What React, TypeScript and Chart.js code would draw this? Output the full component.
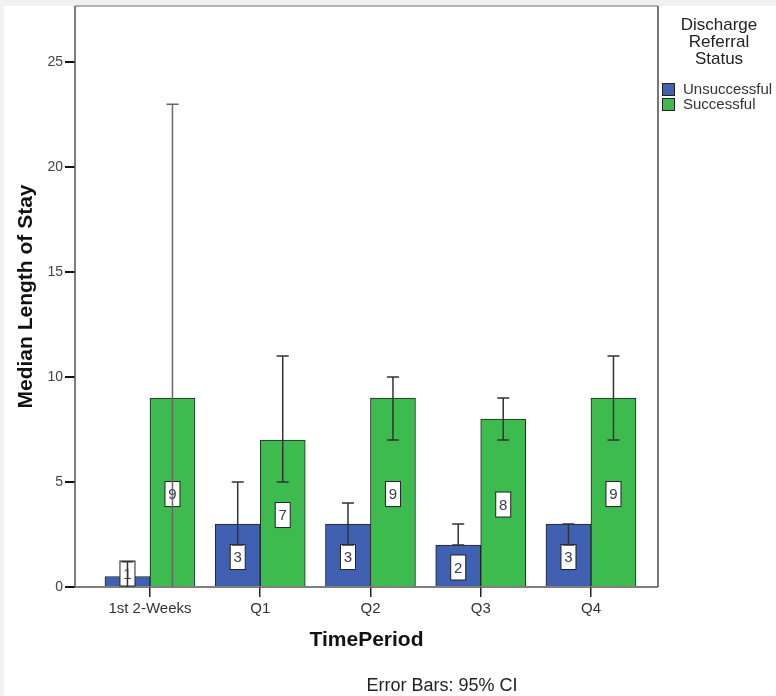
import React, { useEffect, useRef } from "react";
import { Chart, registerables } from "chart.js";

Chart.register(...registerables);

const categories = ["1st 2-Weeks", "Q1", "Q2", "Q3", "Q4"];
const seriesNames = ["Unsuccessful", "Successful"];
const unsuccessful = [0.5, 3, 3, 2, 3];
const successful = [9, 7, 9, 8, 9];
const unsuccessfulLow = [0, 2, 2, 2, 2];
const unsuccessfulHigh = [1.2, 5, 4, 3, 3];
const successfulLow = [0, 5, 7, 7, 7];
const successfulHigh = [23, 11, 10, 9, 11];
const yTicks = [0, 5, 10, 15, 20, 25];
const legendTitle = ["Discharge", "Referral", "Status"];
const yTitle = "Median Length of Stay";
const xTitle = "TimePeriod";
const footnote = "Error Bars: 95% CI";

const COLORS = ["#4060b2", "#3dbb4e"];
const SANS = "'Liberation Sans', Arial, sans-serif";
const NARROW = "'Liberation Sans Narrow', 'Arial Narrow', 'Liberation Sans', Arial, sans-serif";

const lows = [unsuccessfulLow, successfulLow];
const highs = [unsuccessfulHigh, successfulHigh];

const decorPlugin = {
  id: "decor",
  beforeDraw(chart: any) {
    const { ctx, width, height } = chart;
    ctx.save();
    ctx.fillStyle = "#f1f1f1";
    ctx.fillRect(0, 0, width, height);
    ctx.fillStyle = "#ffffff";
    ctx.fillRect(4, 6, width - 4, height - 6);
    ctx.restore();
  },
  afterDatasetsDraw(chart: any) {
    const { ctx, chartArea } = chart;
    const { left, right, top, bottom } = chartArea;
    const yScale = chart.scales.y;
    ctx.save();
    // plot frame
    ctx.lineWidth = 1.5;
    ctx.strokeStyle = "#9a9a9a";
    ctx.beginPath();
    ctx.moveTo(left, top);
    ctx.lineTo(right, top);
    ctx.stroke();
    ctx.lineWidth = 2;
    ctx.strokeStyle = "#777";
    ctx.beginPath();
    ctx.moveTo(right, top);
    ctx.lineTo(right, bottom);
    ctx.stroke();
    ctx.strokeStyle = "#555";
    ctx.lineWidth = 1.5;
    ctx.beginPath();
    ctx.moveTo(left, top);
    ctx.lineTo(left, bottom);
    ctx.lineTo(right, bottom);
    ctx.stroke();

    // value label boxes
    [unsuccessful, successful].forEach((vals, d) => {
      const meta = chart.getDatasetMeta(d);
      meta.data.forEach((el: any, i: number) => {
        const txt = String(Math.round(vals[i]));
        const bw = 15;
        const bh = 25;
        const cy = Math.min((el.y + el.base) / 2 + 2, el.base - bh / 2);
        const cx = el.x;
        ctx.fillStyle = "#ffffff";
        ctx.fillRect(cx - bw / 2, cy - bh / 2, bw, bh);
        ctx.strokeStyle = "#222";
        ctx.lineWidth = 1;
        ctx.strokeRect(cx - bw / 2, cy - bh / 2, bw, bh);
        ctx.fillStyle = "#3a3a55";
        ctx.font = `15px ${SANS}`;
        ctx.textAlign = "center";
        ctx.textBaseline = "middle";
        ctx.fillText(txt, cx, cy + 1);
      });
    });

    // error bars
    [0, 1].forEach((d) => {
      const meta = chart.getDatasetMeta(d);
      meta.data.forEach((el: any, i: number) => {
        const x = el.x;
        const yl = yScale.getPixelForValue(lows[d][i]);
        const yh = yScale.getPixelForValue(highs[d][i]);
        ctx.strokeStyle = d === 1 && i === 0 ? "#666" : "#333";
        ctx.lineWidth = 1.5;
        ctx.beginPath();
        ctx.moveTo(x, yl);
        ctx.lineTo(x, yh);
        ctx.moveTo(x - 6, yh);
        ctx.lineTo(x + 6, yh);
        if (lows[d][i] > 0) {
          ctx.moveTo(x - 6, yl);
          ctx.lineTo(x + 6, yl);
        }
        ctx.stroke();
      });
    });
    ctx.restore();
  },
  afterDraw(chart: any) {
    const { ctx, chartArea } = chart;
    ctx.save();
    ctx.fillStyle = "#111";
    ctx.textAlign = "center";
    ctx.textBaseline = "middle";
    // y title
    ctx.font = `bold 21px ${SANS}`;
    ctx.save();
    ctx.translate(26, (chartArea.top + chartArea.bottom) / 2);
    ctx.rotate(-Math.PI / 2);
    ctx.fillText(yTitle, 0, 0);
    ctx.restore();
    // x title
    ctx.fillText(xTitle, (chartArea.left + chartArea.right) / 2, 640);
    // footnote
    ctx.font = `18px ${NARROW}`;
    ctx.fillStyle = "#222";
    ctx.fillText(footnote, 442, 686);
    // legend
    ctx.font = `17px ${SANS}`;
    ctx.fillStyle = "#222";
    legendTitle.forEach((line, k) => {
      ctx.fillText(line, 719, 25 + k * 17);
    });
    seriesNames.forEach((name, k) => {
      const y = 83 + k * 15;
      ctx.fillStyle = COLORS[k];
      ctx.fillRect(662, y, 13, 13);
      ctx.strokeStyle = "#222";
      ctx.lineWidth = 1;
      ctx.strokeRect(662.5, y + 0.5, 12, 12);
      ctx.fillStyle = "#333";
      ctx.font = `15px ${SANS}`;
      ctx.textAlign = "left";
      ctx.fillText(name, 683, y + 7);
    });
    ctx.restore();
  },
};

export default function App() {
  const ref = useRef<HTMLCanvasElement | null>(null);
  useEffect(() => {
    if (!ref.current) return;
    const chart = new Chart(ref.current, {
      type: "bar",
      data: {
        datasets: [unsuccessful, successful].map((vals, d) => ({
          label: seriesNames[d],
          data: vals.map((y, i) => ({ x: i, y })),
          backgroundColor: COLORS[d],
          borderColor: "#222",
          borderWidth: 1,
          barThickness: 45,
        })),
      },
      options: {
        responsive: false,
        animation: false,
        devicePixelRatio: 1,
        layout: { padding: { top: 6, right: 118, left: 0, bottom: 0 } },
        plugins: { legend: { display: false }, tooltip: { enabled: false } },
        scales: {
          x: {
            type: "linear",
            offset: false,
            min: -0.68,
            max: 4.608,
            afterFit: (s: any) => {
              s.height = 109;
              s.paddingLeft = 0;
              s.paddingRight = 0;
            },
            afterBuildTicks: (s: any) => {
              s.ticks = categories.map((_, i) => ({ value: i }));
            },
            ticks: {
              autoSkip: false,
              maxRotation: 0,
              padding: 3,
              color: "#333",
              font: { family: NARROW, size: 15 },
              callback: (v: any) => categories[v] ?? "",
            },
            grid: {
              offset: false,
              drawOnChartArea: false,
              drawTicks: true,
              tickLength: 10,
              color: "#222",
              lineWidth: 1.5,
            },
            border: { display: false },
          },
          y: {
            min: 0,
            max: 27.68,
            afterFit: (s: any) => {
              s.width = 75;
              s.paddingTop = 0;
              s.paddingBottom = 0;
            },
            afterBuildTicks: (s: any) => {
              s.ticks = yTicks.map((v) => ({ value: v }));
            },
            ticks: {
              padding: 2,
              color: "#4a4048",
              font: { family: NARROW, size: 14 },
            },
            grid: {
              drawOnChartArea: false,
              drawTicks: true,
              tickLength: 10,
              color: "#111",
              lineWidth: 2,
            },
            border: { display: false },
          },
        },
      },
      plugins: [decorPlugin],
    } as any);
    return () => chart.destroy();
  }, []);
  return (
    <div style={{ position: "absolute", left: 0, top: 0, width: 776, height: 696 }}>
      <canvas ref={ref} width={776} height={696} style={{ display: "block" }} />
    </div>
  );
}
